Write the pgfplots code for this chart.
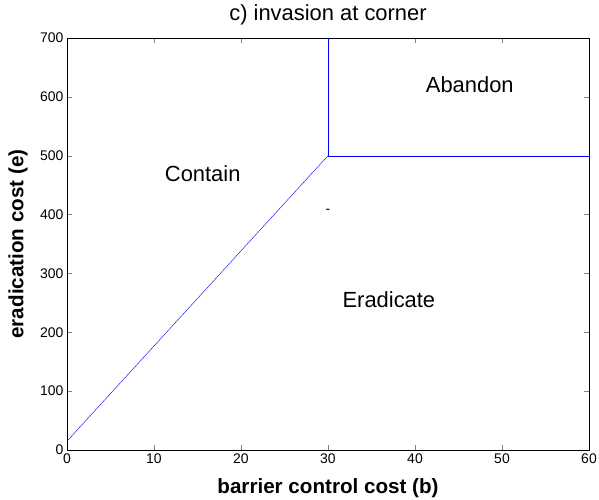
\documentclass[border=0pt]{standalone}
\usepackage{fontspec}
\setmainfont{Liberation Sans}
\usepackage{pgfplots}
\pgfplotsset{compat=1.18}
\usetikzlibrary{calc}

\begin{document}
\begin{tikzpicture}
\begin{axis}[
  name=ax, at={(0,0)}, anchor=south west,
  scale only axis, width=522bp, height=412bp,
  xmin=0, xmax=60, ymin=0, ymax=700,
  xtick={0,10,...,60}, ytick={0,100,...,700},
  tick align=inside, major tick length=5bp,
  tick label style={font=\fontsize{14}{16}\selectfont},
  /pgf/number format/assume math mode=true,
  xlabel={barrier control cost (b)}, ylabel={eradication cost (e)},
  label style={font=\fontsize{20.7}{23}\selectfont\bfseries},
  xlabel style={at={(axis description cs:0.5,-0.0922)}, anchor=center},
  ylabel style={at={(axis description cs:-0.0939,0.5)}, anchor=center},
  axis line style={black}]
\addplot[blue, no marks] coordinates {(0,15) (30,500)};
\addplot[blue, no marks] coordinates {(30,700) (30,500) (60,500)};
\node[font=\fontsize{22}{24}\selectfont] at (axis cs:15.6,469) {Contain};
\node[font=\fontsize{22}{24}\selectfont] at (axis cs:46.3,620) {Abandon};
\node[font=\fontsize{22}{24}\selectfont] at (axis cs:37,256) {Eradicate};
\node[font=\fontsize{14}{16}\selectfont] at (axis cs:30,405) {-};
\end{axis}
\node[font=\fontsize{22}{24}\selectfont] at ($(ax.north)+(0,23bp)$) {c) invasion at corner};
\pgfresetboundingbox
\path ($(ax.south west)+(-67bp,-50bp)$) rectangle ($(ax.north east)+(10bp,38bp)$);
\end{tikzpicture}
\end{document}
